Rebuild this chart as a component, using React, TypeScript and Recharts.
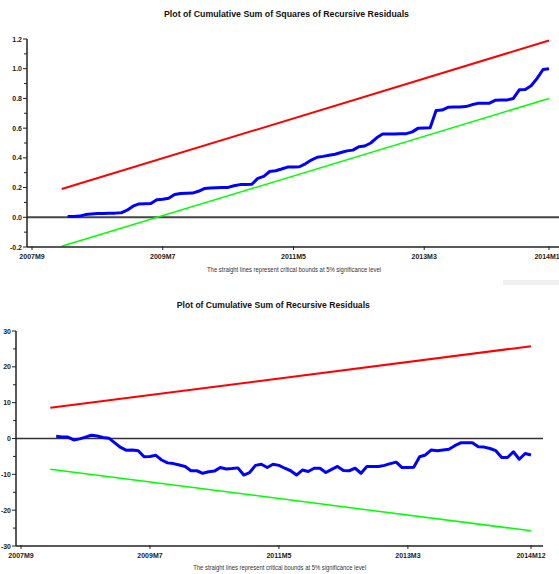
import React from "react";
import { LineChart, Line, XAxis, YAxis, ReferenceLine } from "recharts";

// ---------- categories ----------
const START_YEAR = 2007;
const START_MONTH = 9;
const N_MONTHS = 88;
const months: string[] = [];
for (let i = 0; i < N_MONTHS; i++) {
  const m = START_MONTH + i;
  months.push(`${START_YEAR + Math.floor((m - 1) / 12)}M${((m - 1) % 12) + 1}`);
}
const xTickIdx = [0, 22, 44, 66, 87];
const xTickLabels = ["2007M9", "2009M7", "2011M5", "2013M3", "2014M12"];

// ---------- series: CUSUM of squares (from 2008M3) ----------
const cusumSqStart = 6;
const cusumSq = [
  0.005, 0.006, 0.008, 0.018, 0.022, 0.025, 0.026, 0.027, 0.028, 0.03,
  0.048, 0.075, 0.09, 0.091, 0.092, 0.118, 0.122, 0.128, 0.153, 0.16,
  0.162, 0.163, 0.175, 0.193, 0.197, 0.199, 0.2, 0.201, 0.212, 0.22,
  0.221, 0.222, 0.262, 0.275, 0.308, 0.313, 0.325, 0.338, 0.339, 0.34,
  0.36, 0.385, 0.404, 0.41, 0.418, 0.424, 0.436, 0.447, 0.452, 0.475,
  0.48, 0.5, 0.535, 0.56, 0.56, 0.561, 0.562, 0.563, 0.575, 0.6,
  0.601, 0.602, 0.718, 0.722, 0.74, 0.742, 0.743, 0.745, 0.757, 0.767,
  0.767, 0.768, 0.788, 0.789, 0.79, 0.8, 0.858, 0.86, 0.885, 0.935,
  0.995, 1.0,
];
const boundIdx = [5, 87];
const sqUpper = [0.19, 1.19];
const sqLower = [-0.195, 0.8];

// ---------- series: CUSUM (from 2008M3) ----------
const cusumStart = 6;
const cusum = [
  0.6, 0.4, 0.4, -0.4, -0.1, 0.4, 0.9, 0.7, 0.3, 0.1,
  -1.2, -2.5, -3.3, -3.2, -3.4, -5.1, -5.0, -4.7, -6.0, -6.8,
  -7.0, -7.4, -7.8, -9.0, -9.0, -9.7, -9.3, -9.1, -8.1, -8.5,
  -8.4, -8.2, -10.2, -9.5, -7.5, -7.2, -8.1, -7.2, -7.5, -8.3,
  -9.0, -10.2, -8.8, -9.2, -8.3, -8.3, -9.5, -8.6, -7.8, -8.9,
  -9.0, -8.3, -9.7, -7.8, -7.8, -7.8, -7.5, -7.0, -6.6, -8.1,
  -8.1, -8.0, -5.1, -4.6, -3.2, -3.4, -3.2, -3.0, -2.0, -1.2,
  -1.2, -1.2, -2.3, -2.4, -2.8, -3.4, -5.3, -5.3, -3.7, -5.8,
  -4.2, -4.6,
];
const cuUpper = [8.59, 25.76];
const cuLower = [-8.59, -25.76];

// ---------- y ticks ----------
const sqYTicks = [-0.2, -0.1, 0, 0.1, 0.2, 0.3, 0.4, 0.5, 0.6, 0.7, 0.8, 0.9, 1.0, 1.1, 1.2];
const sqYMajor = ["-0.2", "0.0", "0.2", "0.4", "0.6", "0.8", "1.0", "1.2"];
const cuYTicks = [-30, -25, -20, -15, -10, -5, 0, 5, 10, 15, 20, 25, 30];
const cuYMajor = ["-30", "-20", "-10", "0", "10", "20", "30"];

function bound(i: number, vals: number[]) {
  const k = boundIdx.indexOf(i);
  return k >= 0 ? vals[k] : null;
}

const sqData = months.map((m, i) => ({
  i,
  month: m,
  blue: i >= cusumSqStart ? cusumSq[i - cusumSqStart] : null,
  red: bound(i, sqUpper),
  green: bound(i, sqLower),
}));
const cuData = months.map((m, i) => ({
  i,
  month: m,
  blue: i >= cusumStart ? cusum[i - cusumStart] : null,
  red: bound(i, cuUpper),
  green: bound(i, cuLower),
}));

const FONT = "'Liberation Sans', Arial, sans-serif";
const AXIS = "#222";

function makeYTick(fmt: (v: number) => string, majors: string[]) {
  return (props: any) => {
    const { x, y, payload } = props;
    const label = fmt(payload.value);
    const major = majors.includes(label);
    return (
      <g>
        <line x1={x - (major ? 4 : 3)} x2={x} y1={y} y2={y} stroke={AXIS} strokeWidth={1} />
        {major && (
          <text x={x - 5} y={y + 2.5} textAnchor="end" fontSize={7} fontWeight="bold" fill="#222" fontFamily={FONT}>
            {label}
          </text>
        )}
      </g>
    );
  };
}

const XTick = (props: any) => {
  const { x, y, payload } = props;
  const k = xTickIdx.indexOf(payload.value);
  return (
    <g>
      <line x1={x} x2={x} y1={y - 1} y2={y + 3} stroke={AXIS} strokeWidth={1} />
      <text x={x} y={y + 12} textAnchor="middle" fontSize={7} fontWeight="bold" fill="#222" fontFamily={FONT}>
        {k >= 0 ? xTickLabels[k] : ""}
      </text>
    </g>
  );
};

const sqYTick = makeYTick((v) => v.toFixed(1), sqYMajor);
const cuYTick = makeYTick((v) => String(v), cuYMajor);

export default function App() {
  return (
    <div style={{ position: "relative", width: 559, height: 574, background: "#fff", overflow: "hidden" }}>
      <style>{`body{margin:0;overflow:hidden;background:#fff}`}</style>
      <div style={{ position: "absolute", left: 0, top: 0 }}>
        <LineChart width={559} height={280} data={sqData} margin={{ top: 39, right: 0, bottom: 0, left: 0 }}>
          <XAxis
            dataKey="i"
            type="number"
            domain={[0, 87]}
            ticks={xTickIdx}
            padding={{ left: 5, right: 10 }}
            height={33}
            tickSize={0}
            tickMargin={0}
            tickLine={false}
            tick={XTick}
            interval={0}
            stroke={AXIS}
            strokeWidth={1.5}
          />
          <YAxis
            type="number"
            domain={[-0.2, 1.2]}
            ticks={sqYTicks}
            width={27}
            tickSize={0}
            tickMargin={0}
            tickLine={false}
            tick={sqYTick}
            interval={0}
            allowDataOverflow
            stroke={AXIS}
            strokeWidth={1.5}
          />
          <ReferenceLine y={0} stroke="#444" strokeWidth={2} />
          <Line dataKey="red" stroke="#ff0000" strokeWidth={2} dot={false} connectNulls isAnimationActive={false} />
          <Line dataKey="green" stroke="#00ff00" strokeWidth={1.5} dot={false} connectNulls isAnimationActive={false} />
          <Line dataKey="blue" stroke="#0000ff" strokeWidth={3} dot={false} strokeLinejoin="round" isAnimationActive={false} />
        </LineChart>
      </div>
      <div style={{ position: "absolute", left: 0, top: 280 }}>
        <LineChart width={559} height={294} data={cuData} margin={{ top: 51, right: 16, bottom: 0, left: 0 }}>
          <XAxis
            dataKey="i"
            type="number"
            domain={[0, 87]}
            ticks={xTickIdx}
            padding={{ left: 5, right: 12 }}
            height={28}
            tickSize={0}
            tickMargin={0}
            tickLine={false}
            tick={XTick}
            interval={0}
            stroke={AXIS}
            strokeWidth={1.5}
          />
          <YAxis
            type="number"
            domain={[-30, 30]}
            ticks={cuYTicks}
            width={16}
            tickSize={0}
            tickMargin={0}
            tickLine={false}
            tick={cuYTick}
            interval={0}
            allowDataOverflow
            stroke={AXIS}
            strokeWidth={1.5}
          />
          <ReferenceLine y={0} stroke="#333" strokeWidth={1.5} />
          <Line dataKey="red" stroke="#ff0000" strokeWidth={2} dot={false} connectNulls isAnimationActive={false} />
          <Line dataKey="green" stroke="#00ff00" strokeWidth={1.5} dot={false} connectNulls isAnimationActive={false} />
          <Line dataKey="blue" stroke="#0000ff" strokeWidth={3} dot={false} strokeLinejoin="round" isAnimationActive={false} />
        </LineChart>
      </div>
      <svg width={559} height={574} style={{ position: "absolute", left: 0, top: 0, pointerEvents: "none" }}>
        <rect x={503} y={280} width={56} height={5} fill="#f0f0f0" />
        <text x={286.5} y={16.5} textAnchor="middle" fontSize={9.5} fontWeight="bold" fill="#111" fontFamily={FONT} textLength={245} lengthAdjust="spacingAndGlyphs">
          Plot of Cumulative Sum of Squares of Recursive Residuals
        </text>
        <text x={294} y={272} textAnchor="middle" fontSize={7} fill="#333" fontFamily={FONT} textLength={174} lengthAdjust="spacingAndGlyphs">
          The straight lines represent critical bounds at 5% significance level
        </text>
        <text x={273.3} y={307.5} textAnchor="middle" fontSize={9.5} fontWeight="bold" fill="#111" fontFamily={FONT} textLength={193} lengthAdjust="spacingAndGlyphs">
          Plot of Cumulative Sum of Recursive Residuals
        </text>
        <text x={279.7} y={570} textAnchor="middle" fontSize={7} fill="#333" fontFamily={FONT} textLength={173} lengthAdjust="spacingAndGlyphs">
          The straight lines represent critical bounds at 5% significance level
        </text>
      </svg>
    </div>
  );
}
